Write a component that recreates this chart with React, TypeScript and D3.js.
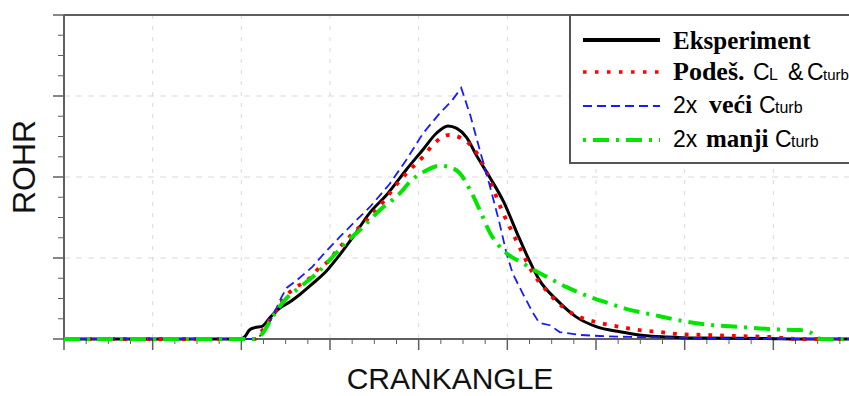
import React from "react";
import * as d3 from "d3";

// Crank angle (deg) and ROHR values
const expAngle = [-40, -20.1, -19.6, -19.1, -18.5, -17.6, -16.8, -15.7, -14.5, -13.4, -12.0, -10.4, -8.9, -7.4, -5.5, -3.6, -1.4, 0.5, 2.0, 3.3, 4.3, 5.4, 6.5, 8.0, 9.6, 11.2, 12.3, 13.6, 15.6, 17.8, 20.1, 22.7, 24.9, 28.0, 31.7, 39.2, 43, 50];
const expRohr = [0, 0, 0.3, 1.1, 1.4, 1.6, 2.6, 3.8, 4.6, 5.5, 6.8, 8.4, 10.4, 12.6, 15.6, 17.8, 20.9, 23.4, 25.4, 26.3, 26.0, 24.9, 22.7, 20.0, 16.9, 12.8, 10.1, 7.3, 4.8, 2.7, 1.5, 0.9, 0.5, 0.25, 0.12, 0.06, 0, 0];

const podAngle = [-40, -18.5, -17.9, -16.5, -14.9, -13.8, -12.3, -11.2, -10.0, -9.2, -8.3, -7.4, -6.4, -5.5, -3.8, -2.1, -0.7, 0.5, 1.8, 3.5, 4.8, 5.8, 6.7, 7.7, 8.6, 9.5, 10.6, 11.7, 12.9, 14.4, 16.2, 18.2, 20.4, 22.7, 24.9, 27.2, 29.4, 32.5, 35.9, 39.6, 43.0, 50];
const podRohr = [0, 0, 0.7, 2.8, 5.4, 6.4, 7.5, 8.8, 9.8, 11.0, 12.0, 13.1, 14.1, 15.1, 17.2, 19.6, 21.2, 22.5, 24.2, 25.2, 24.8, 24.0, 22.7, 20.5, 18.0, 15.6, 13.1, 10.6, 8.1, 6.0, 4.0, 2.7, 2.0, 1.5, 1.1, 0.86, 0.6, 0.5, 0.37, 0.25, 0, 0];

const vecAngle = [-40, -18.5, -17.7, -16.5, -15.5, -14.9, -13.8, -12.0, -10.8, -8.9, -7.0, -5.5, -3.3, -1.4, 0.5, 2.4, 3.8, 4.8, 5.8, 6.9, 8.0, 9.1, 9.9, 10.6, 11.7, 12.9, 13.6, 14.8, 15.9, 18.2, 20.4, 23.8, 27.2, 31.7, 36.2, 40.7, 50];
const vecRohr = [0, 0, 0.5, 2.7, 5.1, 6.3, 7.2, 8.9, 10.4, 12.6, 14.7, 16.3, 19.1, 22.1, 25.4, 27.9, 29.5, 31.0, 27.7, 23.3, 19.0, 14.4, 10.6, 8.1, 5.7, 3.2, 2.0, 1.7, 0.86, 0.5, 0.37, 0.25, 0.2, 0.12, 0.06, 0, 0];

const manAngle = [-40, -18.5, -17.6, -16.5, -15.1, -13.4, -11.5, -10.0, -8.1, -6.3, -4.4, -2.1, -1.0, 0.5, 2.4, 3.8, 4.6, 5.8, 6.9, 8.0, 9.9, 11.7, 12.4, 14.4, 16.7, 19.3, 21.5, 23.8, 26.4, 29.4, 33.2, 36.2, 39.9, 43.0, 44.1, 45.0, 45.5, 50];
const manRohr = [0, 0, 0.7, 2.7, 4.8, 6.4, 8.1, 9.8, 12.0, 13.8, 15.9, 18.0, 19.4, 20.6, 21.4, 21.1, 20.5, 18.4, 15.9, 13.2, 10.6, 9.4, 8.9, 7.7, 6.4, 5.2, 4.4, 3.6, 3.0, 2.3, 1.7, 1.5, 1.2, 1.1, 0.86, 0.12, 0, 0];

const xMajorTicks = [-40, -30, -20, -10, 0, 10, 20, 30, 40, 50];
const yMajorTicks = [0, 10, 20, 30, 40];
const xLabel = "CRANKANGLE";
const yLabel = "ROHR";

const W = 849;
const H = 396;
const left = 64;
const right = 862;
const top = 15;
const bottom = 339;

export default function App() {
  const x = d3.scaleLinear().domain([-40, 50]).range([left, right]);
  const y = d3.scaleLinear().domain([0, 40]).range([bottom, top]);

  const mk = (xs: number[], ys: number[], curve: any) =>
    d3
      .line<number>()
      .x((_, i) => x(xs[i]))
      .y((d) => y(d))
      .curve(curve)(ys) || "";

  const xMinor = d3.range(-40, 50.01, 2.5).filter((v) => !xMajorTicks.includes(v));
  const yMinor = d3.range(0, 40.01, 2.5).filter((v) => !yMajorTicks.includes(v));

  const axisCol = "#5f5f5f";
  const gridCol = "#d9d9d9";
  const serif = "'Liberation Serif', 'Times New Roman', serif";
  const sans = "'Liberation Sans', Arial, sans-serif";

  const legendX1 = 583;
  const legendX2 = 660;
  const textX = 673;

  return (
    <>
      <style>{`body{margin:0;}`}</style>
      <svg width={W} height={H} style={{ display: "block", background: "#fff" }}>
        {/* grid */}
        {xMajorTicks.slice(1).map((t) => (
          <line key={"gx" + t} x1={x(t)} x2={x(t)} y1={top} y2={bottom} stroke={gridCol} strokeWidth={1} strokeDasharray="4 7" />
        ))}
        {yMajorTicks.slice(1, -1).map((t) => (
          <line key={"gy" + t} x1={left} x2={right} y1={y(t)} y2={y(t)} stroke={gridCol} strokeWidth={1} strokeDasharray="6 6" />
        ))}

        {/* axes */}
        <line x1={left} x2={right} y1={top} y2={top} stroke={axisCol} strokeWidth={2} />
        <line x1={left} x2={left} y1={top} y2={bottom} stroke={axisCol} strokeWidth={2} />
        <line x1={left} x2={right} y1={bottom} y2={bottom} stroke={axisCol} strokeWidth={2} />
        {yMajorTicks.map((t) => (
          <line key={"ty" + t} x1={left - 11} x2={left} y1={y(t)} y2={y(t)} stroke={axisCol} strokeWidth={1.5} />
        ))}
        {yMinor.map((t) => (
          <line key={"tym" + t} x1={left - 6} x2={left} y1={y(t)} y2={y(t)} stroke={axisCol} strokeWidth={1} />
        ))}
        {xMajorTicks.map((t) => (
          <line key={"tx" + t} x1={x(t)} x2={x(t)} y1={bottom} y2={bottom + 11} stroke={axisCol} strokeWidth={1.5} />
        ))}
        {xMinor.map((t) => (
          <line key={"txm" + t} x1={x(t)} x2={x(t)} y1={bottom} y2={bottom + 5} stroke={axisCol} strokeWidth={1} />
        ))}

        {/* curves */}
        <path d={mk(expAngle, expRohr, d3.curveMonotoneX)} fill="none" stroke="#000" strokeWidth={3} />
        <path d={mk(podAngle, podRohr, d3.curveMonotoneX)} fill="none" stroke="#ff0000" strokeWidth={3.8} strokeDasharray="3.8 8" />
        <path d={mk(vecAngle, vecRohr, d3.curveLinear)} fill="none" stroke="#1a1aff" strokeWidth={1.8} strokeDasharray="9 5" />
        <path d={mk(manAngle, manRohr, d3.curveMonotoneX)} fill="none" stroke="#00e600" strokeWidth={4} strokeDasharray="16 7 3 7" />

        {/* axis titles */}
        <text x={450} y={389} textAnchor="middle" fontFamily={sans} fontSize={30} fill="#111">
          {xLabel}
        </text>
        <text transform="translate(35,167) rotate(-90)" textAnchor="middle" fontFamily={sans} fontSize={32} fill="#111">
          {yLabel}
        </text>

        {/* legend */}
        <rect x={570} y={top} width={300} height={148} fill="#fff" stroke="#555" strokeWidth={2} />
        <line x1={legendX1} x2={legendX2} y1={40} y2={40} stroke="#000" strokeWidth={4} />
        <line x1={legendX1} x2={legendX2} y1={72} y2={72} stroke="#ff0000" strokeWidth={3.5} strokeDasharray="3.5 8.5" />
        <line x1={legendX1} x2={legendX2} y1={106} y2={106} stroke="#1a1aff" strokeWidth={1.8} strokeDasharray="9 5" />
        <line x1={legendX1} x2={legendX2} y1={140} y2={140} stroke="#00e600" strokeWidth={4} strokeDasharray="3 7 16 7" />

        <text y={49} fill="#000">
          <tspan x={textX} fontFamily={serif} fontWeight="bold" fontSize={25}>Eksperiment</tspan>
        </text>
        <text y={80} fill="#000">
          <tspan x={textX} fontFamily={serif} fontWeight="bold" fontSize={26}>Podeš.</tspan>
          <tspan x={753} fontFamily={sans} fontSize={23}>C</tspan>
          <tspan x={769} fontFamily={sans} fontSize={16}>L</tspan>
          <tspan x={788} fontFamily={sans} fontSize={23}>&amp;</tspan>
          <tspan x={807} fontFamily={sans} fontSize={23}>C</tspan>
          <tspan x={823} fontFamily={sans} fontSize={15}>turb</tspan>
        </text>
        <text y={113} fill="#000">
          <tspan x={textX} fontFamily={sans} fontSize={23}>2x</tspan>
          <tspan x={709} fontFamily={serif} fontWeight="bold" fontSize={26}>veći</tspan>
          <tspan x={759} fontFamily={sans} fontSize={23}>C</tspan>
          <tspan x={775} fontFamily={sans} fontSize={16}>turb</tspan>
        </text>
        <text y={147} fill="#000">
          <tspan x={textX} fontFamily={sans} fontSize={23}>2x</tspan>
          <tspan x={706} fontFamily={serif} fontWeight="bold" fontSize={25}>manji</tspan>
          <tspan x={775} fontFamily={sans} fontSize={23}>C</tspan>
          <tspan x={791} fontFamily={sans} fontSize={16}>turb</tspan>
        </text>
      </svg>
    </>
  );
}
